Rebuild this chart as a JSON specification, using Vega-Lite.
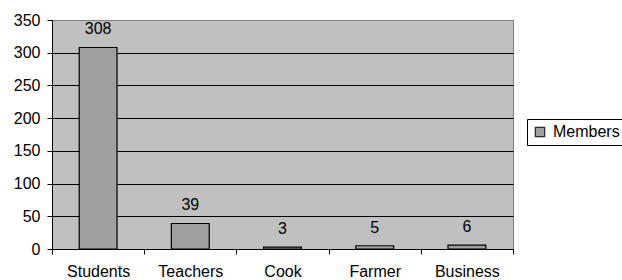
{
  "$schema": "https://vega.github.io/schema/vega-lite/v6.json",
  "width": 461,
  "height": 229,
  "autosize": {"type": "none"},
  "padding": {"left": 52, "top": 20, "right": 109, "bottom": 31},
  "background": "white",
  "config": {
    "font": "Liberation Sans",
    "view": {"fill": "#C0C0C0", "stroke": "#808080", "strokeWidth": 1},
    "axis": {"labelFont": "Liberation Sans", "labelFontSize": 16, "labelColor": "black", "domainColor": "black", "tickColor": "black", "tickSize": 5, "title": null}
  },
  "data": {
    "values": [
      {"category": "Students", "members": 308},
      {"category": "Teachers", "members": 39},
      {"category": "Cook", "members": 3},
      {"category": "Farmer", "members": 5},
      {"category": "Business", "members": 6}
    ]
  },
  "encoding": {
    "x": {
      "field": "category",
      "type": "nominal",
      "sort": null,
      "scale": {"paddingInner": 0, "paddingOuter": 0},
      "axis": {"labelAngle": 0, "tickBand": "extent", "labelPadding": 9, "grid": false, "domainColor": "black"}
    },
    "y": {
      "field": "members",
      "type": "quantitative",
      "scale": {"domain": [0, 350], "nice": false},
      "axis": {"values": [0, 50, 100, 150, 200, 250, 300, 350], "labelPadding": 7, "grid": true, "gridColor": {"condition": {"test": "datum.value >= 350", "value": "#808080"}, "value": "black"}, "gridOpacity": 1}
    }
  },
  "layer": [
    {
      "mark": {"type": "bar", "width": {"band": 0.41}, "stroke": "black", "strokeWidth": 1.2},
      "encoding": {
        "color": {"datum": "Members", "type": "nominal", "scale": {"range": ["#A0A0A0"]},
          "legend": {"title": null, "orient": "none", "legendX": 475, "legendY": 99, "strokeColor": "black", "fillColor": "white", "padding": 5, "labelFontSize": 16, "labelFont": "Liberation Sans", "labelColor": "black", "symbolType": "square", "symbolSize": 90, "symbolStrokeColor": "black", "symbolStrokeWidth": 1, "labelOffset": 5, "cornerRadius": 0}
        }
      }
    },
    {
      "mark": {"type": "text", "baseline": "alphabetic", "dy": -13, "fontSize": 16, "font": "Liberation Sans", "color": "black"},
      "encoding": {"text": {"field": "members", "type": "quantitative"}}
    }
  ]
}
